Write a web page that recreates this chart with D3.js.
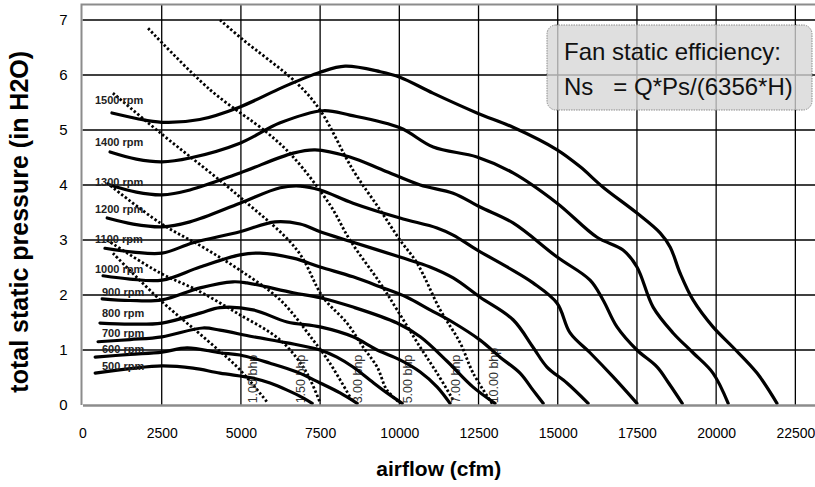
<!DOCTYPE html>
<html>
<head>
<meta charset="utf-8">
<style>
body { margin: 0; background: #fff; }
svg { display: block; font-family: "Liberation Sans", Arial, sans-serif; }
.grid line { stroke: #000; stroke-width: 1.3; }
.rpm { fill: none; stroke: #000; stroke-width: 3.2; stroke-linejoin: round; stroke-linecap: round; }
.bhp { fill: none; stroke: #000; stroke-width: 2.8; stroke-dasharray: 2.4 2.2; }
</style>
</head>
<body>
<div id="diagram"></div>
<script src="https://d3js.org/d3.v7.min.js"></script>
<script>

// ---- data (cfm, in H2O) ----
var curve500  = [[400,0.58],[1500,0.66],[2510,0.71],[3490,0.67],[4340,0.58],[5380,0.49],[5920,0.40],[6460,0.27],[6960,0.13],[7250,0.03]];
var curve600  = [[400,0.87],[1500,0.92],[2510,0.96],[3300,1.04],[4340,0.95],[4970,0.91],[5920,0.76],[6770,0.60],[7500,0.40],[8130,0.22],[8670,0.03]];
var curve700  = [[490,1.15],[1500,1.19],[2510,1.24],[3800,1.40],[4340,1.36],[5380,1.24],[6460,1.13],[7500,1.00],[8030,0.87],[8540,0.69],[9080,0.45],[9610,0.22],[10090,0.03]];
var curve800  = [[550,1.49],[1500,1.47],[2510,1.49],[3710,1.67],[4340,1.77],[5380,1.73],[6460,1.51],[7500,1.42],[8540,1.24],[9300,1.00],[10020,0.82],[10660,0.60],[11190,0.33],[11600,0.03]];
var curve900  = [[620,1.93],[1500,1.90],[2510,1.91],[3710,2.13],[4750,2.24],[5190,2.22],[6650,2.04],[7500,1.95],[8540,1.78],[9930,1.49],[10660,1.24],[11500,0.80],[12320,0.33],[13020,0.03]];
var curve1000 = [[650,2.35],[1500,2.29],[2510,2.27],[3710,2.51],[4970,2.73],[5600,2.76],[6650,2.67],[7500,2.51],[8540,2.33],[9390,2.15],[10240,1.96],[10970,1.73],[11700,1.50],[12550,1.18],[13180,0.87],[13810,0.58],[14220,0.27],[14540,0.03]];
var curve1100 = [[710,2.85],[1600,2.78],[2510,2.76],[3490,2.95],[4970,3.15],[6080,3.33],[6870,3.29],[7500,3.15],[8540,2.96],[10020,2.69],[10970,2.51],[11700,2.31],[12550,1.96],[13590,1.55],[14220,1.05],[14660,0.69],[15290,0.40],[15960,0.03]];
var curve1200 = [[780,3.40],[1600,3.29],[2510,3.24],[3390,3.33],[4970,3.67],[6240,3.95],[6870,3.98],[7500,3.91],[8540,3.67],[10020,3.40],[11190,3.22],[11700,3.09],[12450,2.82],[13400,2.51],[14220,2.22],[14980,1.85],[15390,1.31],[16020,0.95],[16750,0.51],[17500,0.03]];
var curve1300 = [[870,4.00],[1700,3.87],[2510,3.82],[3390,3.91],[4970,4.22],[6650,4.58],[7340,4.64],[8440,4.51],[9490,4.27],[10660,4.00],[11700,3.85],[12550,3.60],[13590,3.31],[14980,2.69],[16020,2.27],[16430,1.91],[16870,1.42],[17500,1.00],[18140,0.69],[18500,0.40],[18930,0.03]];
var curve1400 = [[870,4.60],[1700,4.47],[2510,4.42],[3390,4.49],[4970,4.76],[6240,5.13],[7590,5.35],[8440,5.27],[10020,5.04],[11070,4.69],[12450,4.51],[13590,4.22],[14980,3.67],[16240,3.05],[17060,2.82],[17500,2.51],[18010,1.78],[18640,1.31],[19270,0.95],[19900,0.58],[20380,0.03]];
var curve1500 = [[930,5.31],[1700,5.21],[2500,5.14],[3700,5.19],[4970,5.42],[6330,5.78],[7500,6.05],[8290,6.16],[9400,6.06],[10020,5.96],[11060,5.67],[12450,5.31],[13590,5.05],[14980,4.64],[15710,4.33],[16430,3.96],[17500,3.49],[18230,3.13],[18550,2.87],[18860,2.40],[19270,1.91],[19900,1.42],[20530,1.05],[21290,0.58],[21920,0.03]];

var rpm_names = ["500 rpm","600 rpm","700 rpm","800 rpm","900 rpm","1000 rpm","1100 rpm","1200 rpm","1300 rpm","1400 rpm","1500 rpm"];
var rpm_label_cfm = [615,615,615,615,615,395,395,395,395,395,395];
var rpm_label_pressure = [0.64,0.95,1.24,1.60,1.98,2.40,2.95,3.49,3.98,4.71,5.47];

var bhp100  = [[960,2.76],[2450,1.91],[3930,1.18],[4970,0.64],[5830,0.05]];
var bhp150  = [[770,3.00],[2450,2.40],[3610,2.09],[4880,1.67],[6240,1.18],[7020,0.64],[7500,0.04]];
var bhp300  = [[770,4.04],[2450,3.31],[3800,2.87],[4970,2.45],[6240,1.91],[7280,1.18],[7810,0.76],[8540,0.05]];
var bhp500  = [[960,5.67],[2450,4.95],[4970,3.78],[6770,2.82],[7590,1.96],[8350,1.49],[8860,1.05],[9300,0.69],[9610,0.27],[10020,0.04]];
var bhp700  = [[2070,6.85],[4030,5.73],[5830,4.95],[6650,4.51],[7810,3.64],[8440,3.00],[9390,2.22],[9930,1.73],[10660,1.05],[11190,0.58],[11700,0.09]];
var bhp1000 = [[4340,7.00],[5070,6.64],[6770,5.85],[7500,5.36],[8540,4.27],[9390,3.55],[10020,3.00],[10560,2.58],[11290,1.73],[11920,1.13],[12330,0.58],[12960,0.00]];

var bhp_names = ["1.00 bhp","1.50 bhp","3.00 bhp","5.00 bhp","7.00 bhp","10.00 bhp"];
var bhp_label_cfm = [5510,7020,8820,10400,11920,13120];

var x_ticks = [0,2500,5000,7500,10000,12500,15000,17500,20000,22500];
var y_ticks = [0,1,2,3,4,5,6,7];
var x_max = 23120;
var y_max = 7.28;

var note_lines = ["Fan static efficiency:", "Ns   = Q*Ps/(6356*H)"];

// ---- layout ----
var canvas_size = { width: 815, height: 487 };
var plot = { left: 82.5, right: 815, top: 4.6, bottom: 405 };

var svg = null;
var x = null;
var y = null;

window.onload = function()
{
	svg = d3.select( '#diagram' )
		.append( 'svg' )
			.attr( 'width', canvas_size.width )
			.attr( 'height', canvas_size.height );

	svg.append( 'rect' )
		.attr( 'width', canvas_size.width )
		.attr( 'height', canvas_size.height )
		.attr( 'fill', '#fff' );

	x = d3.scaleLinear().domain( [0, x_max] ).range( [plot.left, plot.right] );
	y = d3.scaleLinear().domain( [0, y_max] ).range( [plot.bottom, plot.top] );

	draw_grid();
	draw_note();
	draw_bhp();
	draw_rpm();
	draw_axes();
}


function draw_grid()
{
	var g = svg.append( 'g' ).attr( 'class', 'grid' );

	g.selectAll( 'line.v' )
		.data( x_ticks.filter( function(d) { return d > 0; } ) )
		.enter().append( 'line' )
			.attr( 'x1', function(d) { return x(d); } )
			.attr( 'x2', function(d) { return x(d); } )
			.attr( 'y1', plot.top )
			.attr( 'y2', plot.bottom );

	g.selectAll( 'line.h' )
		.data( y_ticks.filter( function(d) { return d > 0; } ) )
		.enter().append( 'line' )
			.attr( 'x1', plot.left )
			.attr( 'x2', plot.right )
			.attr( 'y1', function(d) { return y(d); } )
			.attr( 'y2', function(d) { return y(d); } );

	// frame: grey left / top edges
	svg.append( 'path' )
		.attr( 'd', 'M' + (plot.left - 1) + ',' + plot.bottom + 'V' + plot.top + 'H' + plot.right )
		.attr( 'fill', 'none' )
		.attr( 'stroke', '#8c8c8c' )
		.attr( 'stroke-width', 2 );
}


function draw_note()
{
	var g = svg.append( 'g' );

	g.append( 'rect' )
		.attr( 'x', 547 )
		.attr( 'y', 25 )
		.attr( 'width', 265 )
		.attr( 'height', 85 )
		.attr( 'rx', 9 )
		.attr( 'fill', '#d6d6d6' )
		.attr( 'fill-opacity', 0.78 )
		.attr( 'stroke', '#8a8a8a' )
		.attr( 'stroke-width', 1 )
		.attr( 'stroke-dasharray', '1.5 1' );

	g.selectAll( 'text' )
		.data( note_lines )
		.enter().append( 'text' )
			.attr( 'x', 564 )
			.attr( 'y', function(d, i) { return 60 + i * 35; } )
			.attr( 'font-size', 24 )
			.attr( 'fill', '#111' )
			.style( 'white-space', 'pre' )
			.text( function(d) { return d; } );
}


function draw_bhp()
{
	var sets = [bhp100, bhp150, bhp300, bhp500, bhp700, bhp1000];
	var line = d3.line()
		.x( function(d) { return x(d[0]); } )
		.y( function(d) { return y(d[1]); } )
		.curve( d3.curveCatmullRom.alpha(0.5) );

	svg.append( 'g' ).selectAll( 'path' )
		.data( sets )
		.enter().append( 'path' )
			.attr( 'class', 'bhp' )
			.attr( 'd', line );

	svg.append( 'g' ).selectAll( 'text' )
		.data( bhp_names )
		.enter().append( 'text' )
			.attr( 'transform', function(d, i) { return 'translate(' + x(bhp_label_cfm[i]) + ',' + y(0.03) + ') rotate(-90)'; } )
			.attr( 'font-size', 12.5 )
			.attr( 'fill', '#333' )
			.text( function(d) { return d; } );
}


function draw_rpm()
{
	var sets = [curve500, curve600, curve700, curve800, curve900, curve1000,
		curve1100, curve1200, curve1300, curve1400, curve1500];
	var line = d3.line()
		.x( function(d) { return x(d[0]); } )
		.y( function(d) { return y(d[1]); } )
		.curve( d3.curveCatmullRom.alpha(0.5) );

	svg.append( 'g' ).selectAll( 'path' )
		.data( sets )
		.enter().append( 'path' )
			.attr( 'class', 'rpm' )
			.attr( 'd', line );

	svg.append( 'g' ).selectAll( 'text' )
		.data( rpm_names )
		.enter().append( 'text' )
			.attr( 'x', function(d, i) { return x(rpm_label_cfm[i]); } )
			.attr( 'y', function(d, i) { return y(rpm_label_pressure[i]); } )
			.attr( 'font-size', 11 )
			.attr( 'font-weight', 'bold' )
			.attr( 'fill', '#222' )
			.text( function(d) { return d; } );
}


function draw_axes()
{
	var xa = d3.axisBottom( x )
		.tickValues( x_ticks )
		.tickFormat( d3.format( 'd' ) )
		.tickSize( 0 )
		.tickPadding( 23 );
	var gx = svg.append( 'g' )
		.attr( 'transform', 'translate(0,' + plot.bottom + ')' )
		.call( xa );
	gx.select( '.domain' ).attr( 'stroke', '#8c8c8c' ).attr( 'stroke-width', 2.5 );
	gx.selectAll( 'text' ).attr( 'font-size', 14 ).attr( 'font-family', null ).attr( 'fill', '#000' );

	var ya = d3.axisLeft( y ).tickValues( y_ticks ).tickSize( 0 ).tickPadding( 15 );
	var gy = svg.append( 'g' )
		.attr( 'transform', 'translate(' + plot.left + ',0)' )
		.call( ya );
	gy.select( '.domain' ).remove();
	gy.selectAll( 'text' ).attr( 'font-size', 15 ).attr( 'font-family', null ).attr( 'fill', '#000' );

	svg.append( 'text' )
		.attr( 'x', (plot.left + plot.right) / 2 - 10 )
		.attr( 'y', 476 )
		.attr( 'text-anchor', 'middle' )
		.attr( 'font-size', 21 )
		.attr( 'font-weight', 'bold' )
		.text( 'airflow (cfm)' );

	svg.append( 'text' )
		.attr( 'transform', 'translate(28,' + ((plot.top + plot.bottom) / 2 + 17) + ') rotate(-90)' )
		.attr( 'text-anchor', 'middle' )
		.attr( 'font-size', 25 )
		.attr( 'font-weight', 'bold' )
		.text( 'total static pressure (in H2O)' );
}

</script>
</body>
</html>
